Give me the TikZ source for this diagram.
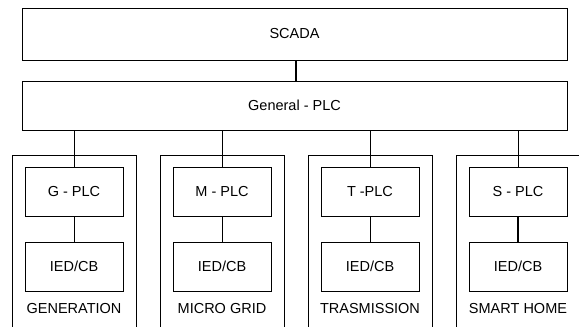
\documentclass[tikz,border=0pt]{standalone}
\usepackage{fontspec}
\setmainfont{Liberation Sans}
\begin{document}
\begin{tikzpicture}[x=1pt,y=1pt,
  box/.style={draw,line width=0.8pt,inner sep=0pt,minimum height=#1},
  wide/.style={box=52,minimum width=545},
  inner/.style={box=49,minimum width=98},
  outer/.style={draw,line width=0.8pt,minimum width=124,minimum height=185,inner sep=0pt},
  lbl/.style={inner sep=0pt},
  link/.style={line width=0.8pt},
  every node/.append style={font=\fontsize{14.5}{17}\selectfont}]
\useasboundingbox (0,0) rectangle (579,327);
\clip (0,0) rectangle (579,327);
\node[wide] (scada) at (294.5,293) {SCADA};
\node[box=49,minimum width=545] (gplc) at (294.5,221.5) {General - PLC};
\draw[line width=1.2pt] (scada.south -| 296,0) -- (gplc.north -| 296,0);
\foreach \n/\x/\p/\t/\w in {g/74/G - PLC/GENERATION/0.8, m/222/M - PLC/MICRO GRID/0.8, t/370/T -PLC/TRASMISSION/0.8, s/518/S - PLC/SMART HOME/1.2}{
  \node[outer] (\n-out) at (\x,79.5) {};
  \node[inner] (\n-plc) at (\x,135.5) {\p};
  \node[inner] (\n-ied) at (\x,60.5) {IED/CB};
  \node[lbl] (\n-lab) at (\x,18) {\t};
  \draw[link] (gplc.south -| \n-plc.north) -- (\n-plc.north);
  \draw[line width=\w pt] (\n-plc.south) -- (\n-ied.north);
}
\end{tikzpicture}
\end{document}
